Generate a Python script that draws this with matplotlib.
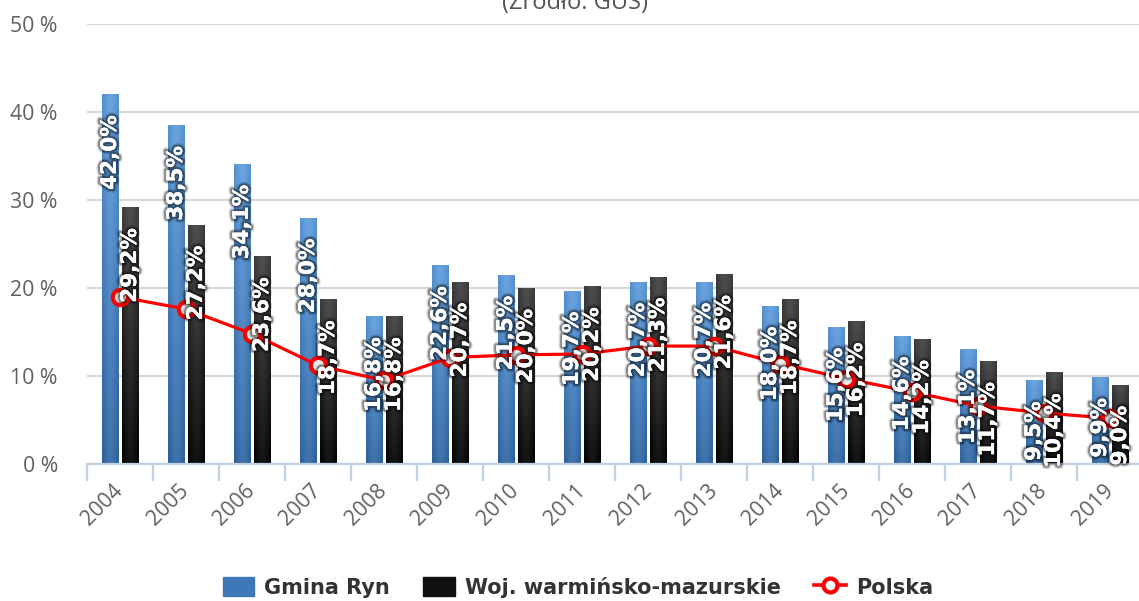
import numpy as np
import matplotlib
matplotlib.use("Agg")
import matplotlib.pyplot as plt
import matplotlib.patheffects as pe
from matplotlib.lines import Line2D
from matplotlib.patches import Patch

years = ["2004", "2005", "2006", "2007", "2008", "2009", "2010", "2011",
         "2012", "2013", "2014", "2015", "2016", "2017", "2018", "2019"]
gmina_ryn = [42.0, 38.5, 34.1, 28.0, 16.8, 22.6, 21.5, 19.7,
             20.7, 20.7, 18.0, 15.6, 14.6, 13.1, 9.5, 9.9]
woj = [29.2, 27.2, 23.6, 18.7, 16.8, 20.7, 20.0, 20.2,
       21.3, 21.6, 18.7, 16.2, 14.2, 11.7, 10.4, 9.0]
polska = [19.0, 17.6, 14.8, 11.2, 9.5, 12.1, 12.4, 12.5,
          13.4, 13.4, 11.4, 9.7, 8.2, 6.6, 5.8, 5.2]
y_ticks = [0, 10, 20, 30, 40, 50]

W, H = 1139, 601
fig = plt.figure(figsize=(W / 100, H / 100), dpi=100)
ax_left, ax_right = 87, 1143
ax_top, ax_bot = 24, 464
ax = fig.add_axes([ax_left / W, 1 - ax_bot / H, (ax_right - ax_left) / W, (ax_bot - ax_top) / H])

n = len(years)
x = np.arange(n)
bw = 0.245
off = 0.152


def grad_image(top, bottom, shine):
    top = np.array(matplotlib.colors.to_rgb(top))
    bottom = np.array(matplotlib.colors.to_rgb(bottom))
    ny, nx = 64, 32
    v = np.linspace(1, 0, ny)[:, None, None]
    hx = np.linspace(0, 1, nx)
    h = (1 - np.abs(2 * hx - 1) ** 1.5)[None, :, None]
    img = bottom + (top - bottom) * v
    img = img + shine * h
    return np.clip(np.broadcast_to(img, (ny, nx, 3)), 0, 1)


blue_img = grad_image("#5590cc", "#2b5f98", 0.08)
black_img = grad_image("#3a3a3c", "#000000", 0.08)

bars1 = ax.bar(x - off, gmina_ryn, bw, color="#3f78b8", edgecolor="#cfd9e6", linewidth=0.6, zorder=2)
bars2 = ax.bar(x + off, woj, bw, color="#111111", edgecolor="#d0d0d0", linewidth=0.6, zorder=2)
for bars, img in ((bars1, blue_img), (bars2, black_img)):
    for b in bars:
        x0, y0 = b.get_x(), b.get_y()
        im = ax.imshow(img, extent=[x0, x0 + b.get_width(), y0, y0 + b.get_height()],
                       aspect="auto", origin="upper", zorder=2.1, interpolation="bilinear")
        im.set_clip_path(b)

ax.plot(x, polska, color="#ff0000", lw=2.3, marker="o", ms=11, mfc="#eeeeee",
        mec="#ff0000", mew=3, zorder=4, solid_capstyle="round")

effects = [pe.withStroke(linewidth=5, foreground=(0, 0, 0, 0.18)),
           pe.withStroke(linewidth=3, foreground=(0, 0, 0, 0.35)),
           pe.Normal()]


def fmt(v):
    return f"{v:.1f}".replace(".", ",") + "%"


for xs, vals in ((x - off, gmina_ryn), (x + off, woj)):
    for xi, v in zip(xs, vals):
        ax.annotate(fmt(v), (xi, v), xytext=(0, -21), textcoords="offset pixels",
                    rotation=90, ha="center", va="top", color="white",
                    fontsize=15.5, fontweight="bold", zorder=5,
                    path_effects=effects, annotation_clip=False)

ax.set_xlim(-0.5, n - 0.5)
ax.set_ylim(0, 50)
ax.set_yticks(y_ticks)
ax.set_yticklabels([f"{t} %" for t in y_ticks], fontfamily="Open Sans")
ax.yaxis.grid(True, color="#d8d8d8", lw=1.6, zorder=0)
ax.set_axisbelow(True)
for s in ("top", "right", "left"):
    ax.spines[s].set_visible(False)
ax.spines["bottom"].set_color("#c0d0e0")
ax.spines["bottom"].set_linewidth(1.6)
ax.tick_params(axis="y", length=0, pad=21, labelsize=15.3, labelcolor="#606060")

ax.set_xticks(np.arange(n + 1) - 0.5, minor=True)
ax.tick_params(axis="x", which="minor", length=12, width=1.6, color="#c0d0e0")
ax.set_xticks(x)
ax.set_xticklabels(years, rotation=45, ha="right", va="center", rotation_mode="anchor",
                   fontfamily="Open Sans")
ax.tick_params(axis="x", which="major", length=0, pad=17, labelsize=15.3, labelcolor="#606060")

fig.text(575 / W, 1 - 9 / H, "(Źródło: GUS)", ha="center", va="baseline",
         fontsize=17, color="#555555", fontfamily="Open Sans")

handles = [
    Patch(facecolor="#3f78b8", edgecolor="#3f78b8"),
    Patch(facecolor="#111111", edgecolor="#111111"),
    Line2D([0], [0], color="#ff0000", lw=2.6, marker="o", ms=10, mfc="white", mec="#ff0000", mew=3),
]
leg = fig.legend(handles, ["Gmina Ryn", "Woj. warmińsko-mazurskie", "Polska"],
                 loc="center", bbox_to_anchor=(578 / W, 1 - 587 / H), ncol=3, frameon=False,
                 prop={"size": 15, "weight": "bold"}, handlelength=1.5, handleheight=1.05,
                 handletextpad=0.5, columnspacing=1.6, borderaxespad=0, borderpad=0)
for t in leg.get_texts():
    t.set_color("#333333")

fig.savefig("out.png", dpi=100)
